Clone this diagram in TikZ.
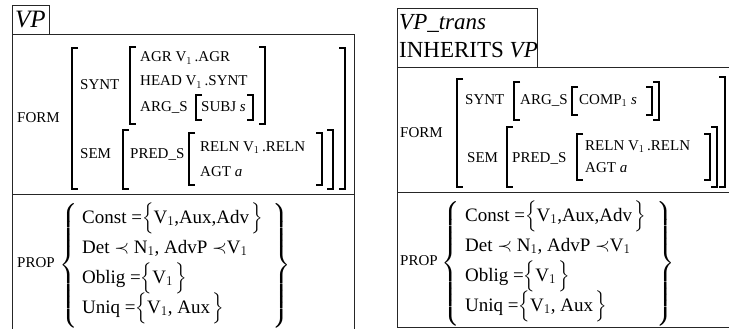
\RequirePackage{fix-cm}
\documentclass[tikz,border=0pt]{standalone}
\usepackage{amsmath}
\usepackage{exscale}
\usepackage{fontspec}
\setmainfont{Liberation Serif}
\usetikzlibrary{positioning}

\newcommand{\avmopen}[3]{\draw[brk] (#1+6,#2) -| (#1,#3) -- (#1+6,#3);}
\newcommand{\avmclose}[3]{\draw[brk] (#1-6,#2) -| (#1,#3) -- (#1-6,#3);}
\newcommand{\tallbox}{\vcenter{\hbox{\rule{0pt}{118pt}}}}

\tikzset{
    box/.style={line width=0.8pt, draw=black!85},
    brk/.style={line width=1.6pt},
    title/.style={font=\fontsize{23}{27}\selectfont, inner sep=0pt, anchor=base west},
    feat/.style={font=\fontsize{15}{19}\selectfont, inner sep=0pt, anchor=base west},
    prop/.style={font=\fontsize{19}{23}\selectfont, inner sep=0pt, anchor=base west},
    brace/.style={font=\fontsize{21}{25}\selectfont, inner sep=0pt}
}

\begin{document}
\begin{tikzpicture}[x=1pt, y=-1pt]
    \useasboundingbox (0,0) rectangle (729,329);
    \clip (0,0) rectangle (729,329);

    \draw[box] (12,5) rectangle (49,34);
    \draw[box] (12,34) rectangle (354,340);
    \draw[box] (12,194) -- (354,194);

    \node[title, font=\fontsize{25}{29}\selectfont] (vp) at (15,28) {\textit{VP}};
    \node[feat] (lform) at (17,123) {FORM};
    \node[feat] (lsynt) at (80,90) {SYNT};
    \node[feat] (lagr) at (140,62) {AGR V$_1$\,.AGR};
    \node[feat] (lhead) at (140,86) {HEAD V$_1$\,.SYNT};
    \node[feat] (largs) at (140,111) {ARG\_S};
    \node[feat] (lsubj) at (201,111) {SUBJ \textit{s}};
    \node[feat] (lsem) at (80,158) {SEM};
    \node[feat] (lpreds) at (130,158) {PRED\_S};
    \node[feat] (lreln) at (200,151) {RELN V$_1$\,.RELN};
    \node[feat] (lagt) at (200,176) {AGT \textit{a}};

    \avmopen{72}{48}{189} \avmclose{345}{48}{189}
    \avmopen{130}{47}{124} \avmclose{265}{47}{124}
    \avmopen{196}{95}{120} \avmclose{253}{95}{120}
    \avmopen{123}{130}{189} \avmclose{333}{130}{189}
    \avmopen{189}{133}{185} \avmclose{322}{133}{185}

    \node[feat] (lprop) at (17,267) {PROP};
    \node[brace] (lopen) at (69,265.5) {$\left\{\tallbox\right.$};
    \node[prop] (lconst) at (82,223) {Const =$\Bigl\{$V$_1$,Aux,Adv\hspace{2pt}$\Bigr\}$};
    \node[prop] (ldet) at (82,253) {Det $\prec$ N$_1$, AdvP $\prec$V$_1$};
    \node[prop] (loblig) at (82,283) {Oblig =$\Bigl\{$V$_1$\hspace{2pt}$\Bigr\}$};
    \node[prop] (luniq) at (82,313) {Uniq =$\Bigl\{$V$_1$, Aux\hspace{2pt}$\Bigr\}$};
    \node[brace] (lclose) at (281,265.5) {$\left.\tallbox\right\}$};

    \draw[box] (397,8) rectangle (537,67);
    \draw[box] (397,67) rectangle (740,327);
    \draw[box] (397,192) -- (740,192);

    \node[title] (vpt) at (399,30) {\textit{VP\_trans}};
    \node[title] (inh) at (399,58) {INHERITS \textit{VP}};
    \node[feat] (rform) at (400,137) {FORM};
    \node[feat] (rsynt) at (465,104) {SYNT};
    \node[feat] (rargs) at (520,104) {ARG\_S};
    \node[feat] (rcomp) at (579,104) {COMP$_1$ \textit{s}};
    \node[feat] (rsem) at (467,162) {SEM};
    \node[feat] (rpreds) at (512,162) {PRED\_S};
    \node[feat] (rreln) at (585,150) {RELN V$_1$\,.RELN};
    \node[feat] (ragt) at (585,172) {AGT \textit{a}};

    \avmopen{457}{79}{187} \avmclose{725}{77}{187}
    \avmopen{514}{82}{120} \avmclose{659}{82}{120}
    \avmopen{572}{87}{115} \avmclose{652}{87}{115}
    \avmopen{507}{127}{187} \avmclose{717}{127}{187}
    \avmopen{577}{134}{180} \avmclose{710}{134}{180}

    \node[feat] (rprop) at (400,265) {PROP};
    \node[brace] (ropen) at (451,263.5) {$\left\{\tallbox\right.$};
    \node[prop] (rconst) at (465,221) {Const =$\Bigl\{$V$_1$,Aux,Adv\hspace{2pt}$\Bigr\}$};
    \node[prop] (rdet) at (465,251) {Det $\prec$ N$_1$, AdvP $\prec$V$_1$};
    \node[prop] (roblig) at (465,281) {Oblig =$\Bigl\{$V$_1$\hspace{2pt}$\Bigr\}$};
    \node[prop] (runiq) at (465,311) {Uniq =$\Bigl\{$V$_1$, Aux\hspace{2pt}$\Bigr\}$};
    \node[brace] (rclose) at (665,263.5) {$\left.\tallbox\right\}$};
\end{tikzpicture}
\end{document}
